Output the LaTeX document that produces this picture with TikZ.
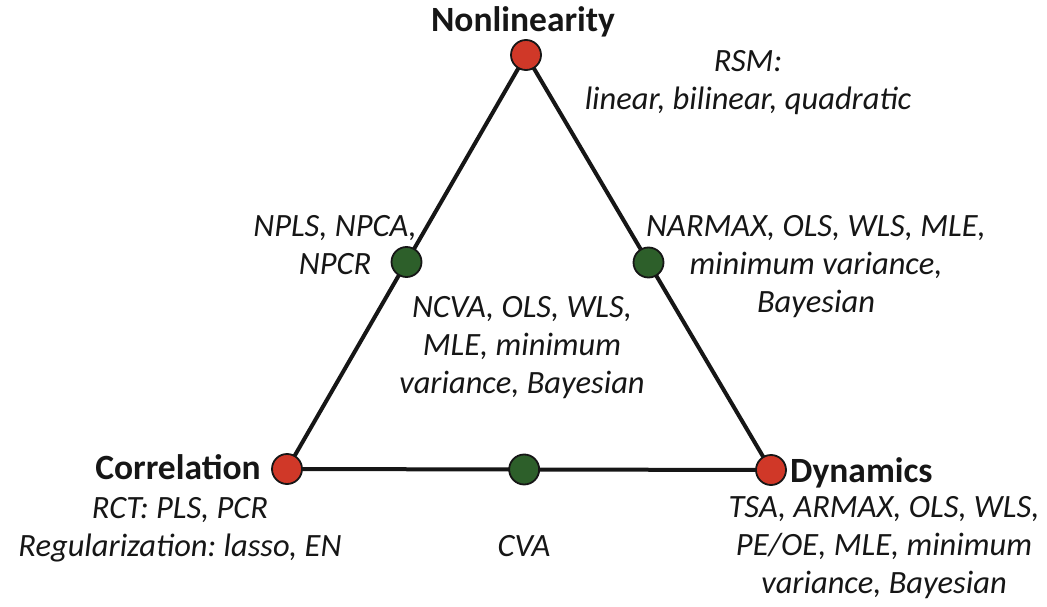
\documentclass[tikz,border=0pt]{standalone}
\usepackage{fontspec}
\setmainfont{Carlito}
\usetikzlibrary{calc,backgrounds}
\definecolor{reddot}{RGB}{208,56,40}
\definecolor{greendot}{RGB}{45,95,42}
\definecolor{ink}{RGB}{22,22,22}
\frenchspacing
\begin{document}
\begin{tikzpicture}[x=1pt,y=-1pt,
  vdot/.style={circle,draw=ink,line width=1.8pt,fill=reddot,minimum size=30pt,inner sep=0pt},
  gdot/.style={circle,draw=ink,line width=1.8pt,fill=greendot,minimum size=30pt,inner sep=0pt},
  edgeline/.style={line width=4pt,draw=ink},
  title/.style={font=\fontsize{35.5}{42}\selectfont\bfseries,text=ink,anchor=base,inner sep=0pt},
  note/.style={font=\fontsize{32.5}{38}\selectfont\itshape\frenchspacing,text=ink,anchor=base,align=center,inner sep=0pt}]
\useasboundingbox (0,0) rectangle (1047,607);
\node[vdot] (nl) at (526,55) {};
\node[vdot] (co) at (287,469) {};
\node[vdot] (dy) at (771,470) {};
\node[gdot] (gl) at ($(nl)!0.5!(co)$) {};
\node[gdot] (gr) at ($(nl)!0.5!(dy)$) {};
\node[gdot] (gb) at ($(co)!0.49!(dy)$) {};
\begin{scope}[on background layer]
\draw[edgeline] (nl.center) -- (co.center);
\draw[edgeline] (co.center) -- (dy.center);
\draw[edgeline] (dy.center) -- (nl.center);
\end{scope}
\node[title] (tnl) at (523,32) {Nonlinearity};
\node[title] (tco) at (178,479) {Correlation};
\node[title,anchor=base west] (tdy) at (790,482) {Dynamics};
% multi-line notes: anchor base = baseline of the last line
\node[note] (rsm) at (748,110) {RSM:\\linear, bilinear, quadratic};
\node[note] (npls) at (335,274) {NPLS, NPCA,\\NPCR};
\node[note] (narmax) at (816,312) {NARMAX, OLS, WLS, MLE,\\minimum variance,\\Bayesian};
\node[note] (ncva) at (522,393) {NCVA, OLS, WLS,\\MLE, minimum\\variance, Bayesian};
\node[note] (rct) at (180,556) {RCT: PLS, PCR\\Regularization: lasso, EN};
\node[note] (cva) at (524,556) {CVA};
\node[note] (tsa) at (884,593) {TSA, ARMAX, OLS, WLS,\\PE/OE, MLE, minimum\\variance, Bayesian};
\end{tikzpicture}
\end{document}
